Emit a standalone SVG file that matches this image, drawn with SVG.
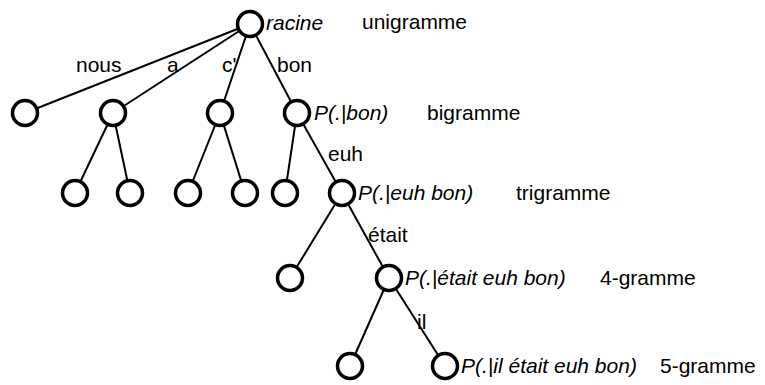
<svg xmlns="http://www.w3.org/2000/svg" width="765" height="385" viewBox="0 0 765 385">
<style>
.n{fill:#fff;stroke:#000;stroke-width:3.5}
.e{stroke:#000;stroke-width:2;fill:none}
text{font-family:"Liberation Sans",Arial,sans-serif;font-size:21px;fill:#000}
.i{font-style:italic}
</style>
<rect width="765" height="385" fill="#fff"/>
<g id="connectors">
<line class="e" x1="250" y1="24" x2="25" y2="113"/>
<line class="e" x1="250" y1="24" x2="113" y2="113"/>
<line class="e" x1="250" y1="24" x2="220" y2="113"/>
<line class="e" x1="250" y1="24" x2="297" y2="113"/>
<line class="e" x1="113" y1="113" x2="75" y2="193"/>
<line class="e" x1="113" y1="113" x2="130" y2="193"/>
<line class="e" x1="220" y1="113" x2="188" y2="193"/>
<line class="e" x1="220" y1="113" x2="245" y2="193"/>
<line class="e" x1="297" y1="113" x2="285" y2="193"/>
<line class="e" x1="297" y1="113" x2="342" y2="193"/>
<line class="e" x1="342" y1="193" x2="290" y2="278"/>
<line class="e" x1="342" y1="193" x2="389" y2="278"/>
<line class="e" x1="389" y1="278" x2="350" y2="366"/>
<line class="e" x1="389" y1="278" x2="445" y2="366"/>
<text x="76" y="72">nous</text>
<text x="167" y="72">a</text>
<text x="222" y="72">c'</text>
<text x="277" y="72">bon</text>
<text x="328" y="161">euh</text>
<text x="368" y="242">était</text>
<text x="417" y="329">il</text>
</g>
<g id="root"><circle class="n" cx="250" cy="24" r="12.5"/><text class="i" x="266" y="30">racine</text></g>
<g id="n-nous"><circle class="n" cx="25" cy="113" r="12.5"/></g>
<g id="n-a"><circle class="n" cx="113" cy="113" r="12.5"/></g>
<g id="n-c"><circle class="n" cx="220" cy="113" r="12.5"/></g>
<g id="n-bon"><circle class="n" cx="297" cy="113" r="12.5"/><text class="i" x="314" y="120">P(.|bon)</text></g>
<g id="n-a1"><circle class="n" cx="75" cy="193" r="12.5"/></g>
<g id="n-a2"><circle class="n" cx="130" cy="193" r="12.5"/></g>
<g id="n-c1"><circle class="n" cx="188" cy="193" r="12.5"/></g>
<g id="n-c2"><circle class="n" cx="245" cy="193" r="12.5"/></g>
<g id="n-bon1"><circle class="n" cx="285" cy="193" r="12.5"/></g>
<g id="n-euh"><circle class="n" cx="342" cy="193" r="12.5"/><text class="i" x="358" y="200">P(.|euh bon)</text></g>
<g id="n-euh1"><circle class="n" cx="290" cy="278" r="12.5"/></g>
<g id="n-etait"><circle class="n" cx="389" cy="278" r="12.5"/><text class="i" x="405" y="285">P(.|était euh bon)</text></g>
<g id="n-etait1"><circle class="n" cx="350" cy="366" r="12.5"/></g>
<g id="n-il"><circle class="n" cx="445" cy="366" r="12.5"/><text class="i" x="461" y="373">P(.|il était euh bon)</text></g>
<g id="levels">
<text x="362" y="29">unigramme</text>
<text x="427" y="120">bigramme</text>
<text x="516" y="200">trigramme</text>
<text x="600" y="285">4-gramme</text>
<text x="660" y="373">5-gramme</text>
</g>
</svg>
